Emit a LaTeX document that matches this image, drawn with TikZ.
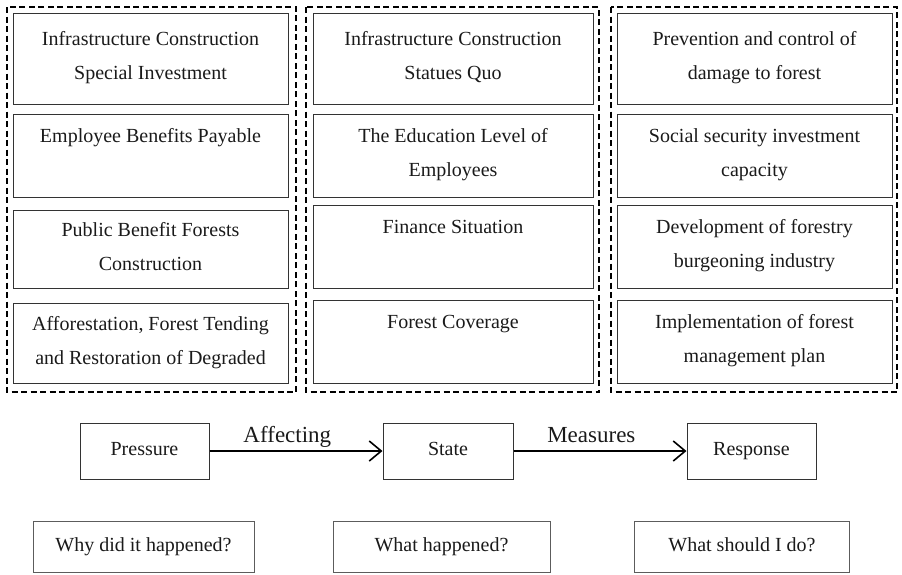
\documentclass[tikz,border=0pt]{standalone}
\usepackage{fontspec}
\setmainfont{Liberation Serif}
\usetikzlibrary{arrows.meta}
\definecolor{boxline}{HTML}{333333}
\definecolor{txt}{HTML}{1A1A1A}
\newcommand{\topstrut}{\rule{0pt}{28pt}}
\newcommand{\botstrut}{\rule[-6pt]{0pt}{6pt}}
\begin{document}
\begin{tikzpicture}[x=1pt,y=-1pt,
  item/.style={draw=boxline, line width=1pt, inner sep=0pt, align=center, text=txt,
    font=\fontsize{20}{34}\selectfont, execute at begin node=\topstrut, execute at end node=\botstrut},
  group/.style={draw=black, line width=1.4pt, dash pattern=on 6pt off 3.5pt},
  flowbox/.style={draw=boxline, line width=1pt, inner sep=0pt, text=txt,
    minimum height=56pt, text height=14pt, text depth=5pt, font=\fontsize{20}{24}\selectfont},
  qbox/.style={draw=boxline!80, line width=1pt, inner sep=0pt, text=txt,
    minimum height=51pt, text height=14pt, text depth=5pt, font=\fontsize{20}{24}\selectfont},
  flow/.style={line width=1.6pt, -{Straight Barb[length=12pt,width=20pt,line width=1.6pt]}},
  flowlabel/.style={above, inner sep=3pt, text=txt, text height=16pt, text depth=5pt,
    font=\fontsize{23}{26}\selectfont}]
\useasboundingbox (0,0) rectangle (902,574);
% dashed groups
\draw[group] (7,7) rectangle (296,392);
\draw[group] (306,7) rectangle (599,392);
\draw[group] (611,7) rectangle (897,392);
% left column
\node[item, minimum width=275pt, minimum height=91pt] (p1) at (150.5,58.5) {Infrastructure Construction\\Special Investment};
\node[item, minimum width=275pt, minimum height=83pt] (p2) at (150.5,155.5) {Employee Benefits Payable\\~};
\node[item, minimum width=275pt, minimum height=78pt] (p3) at (150.5,249) {Public Benefit Forests\\Construction};
\node[item, minimum width=275pt, minimum height=80pt] (p4) at (150.5,343) {Afforestation, Forest Tending\\and Restoration of Degraded};
% middle column
\node[item, minimum width=280pt, minimum height=91pt] (s1) at (453,58.5) {Infrastructure Construction\\Statues Quo};
\node[item, minimum width=280pt, minimum height=83pt] (s2) at (453,155.5) {The Education Level of\\Employees};
\node[item, minimum width=280pt, minimum height=83pt] (s3) at (453,246.5) {Finance Situation\\~};
\node[item, minimum width=280pt, minimum height=83pt] (s4) at (453,341.5) {Forest Coverage\\~};
% right column
\node[item, minimum width=275pt, minimum height=91pt] (r1) at (754.5,58.5) {Prevention and control of\\damage to forest};
\node[item, minimum width=275pt, minimum height=83pt] (r2) at (754.5,155.5) {Social security investment\\capacity};
\node[item, minimum width=275pt, minimum height=83pt] (r3) at (754.5,246.5) {Development of forestry\\burgeoning industry};
\node[item, minimum width=275pt, minimum height=83pt] (r4) at (754.5,341.5) {Implementation of forest\\management plan};
% flow row
\node[flowbox, minimum width=129pt] (pressure) at (144.5,451) {Pressure};
\node[flowbox, minimum width=130pt] (state) at (448,451) {State};
\node[flowbox, minimum width=129pt] (response) at (751.5,451) {Response};
\draw[flow] (pressure.east) -- node[flowlabel, pos=0.45] {Affecting} (state.west);
\draw[flow] (state.east) -- node[flowlabel, pos=0.45] {Measures} (response.west);
% question row
\node[qbox, minimum width=221pt] (q1) at (143.5,546.5) {Why did it happened?};
\node[qbox, minimum width=217pt] (q2) at (441.5,546.5) {What happened?};
\node[qbox, minimum width=215pt] (q3) at (742,546.5) {What should I do?};
\end{tikzpicture}
\end{document}
